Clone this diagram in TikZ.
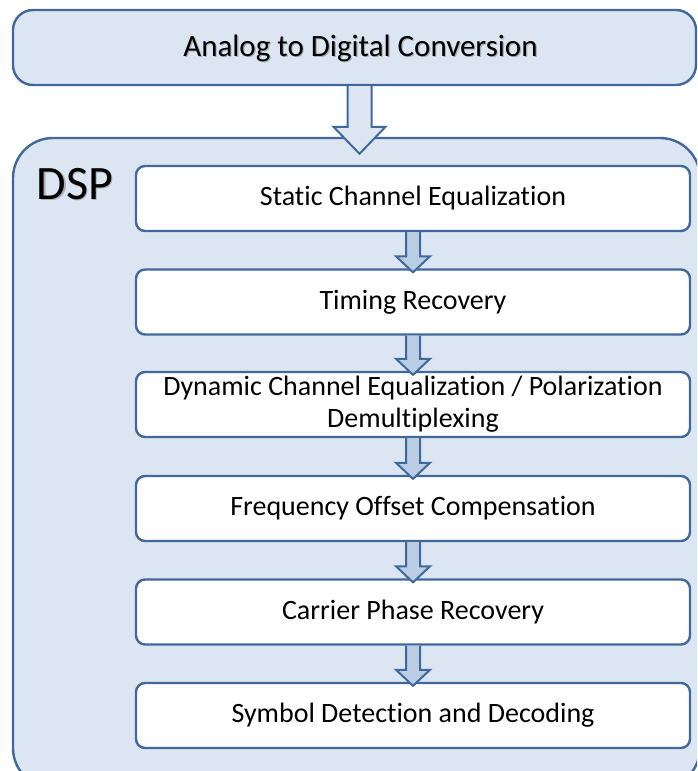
\documentclass[tikz,border=0pt]{standalone}
\usepackage{fontspec}
\setmainfont{Carlito}[Ligatures={NoCommon}]
\usetikzlibrary{calc}
\definecolor{edge}{RGB}{65,104,155}
\definecolor{panel}{RGB}{220,230,242}
\definecolor{arrowfill}{RGB}{185,205,229}
\definecolor{shade}{RGB}{170,175,182}
\tikzset{
  outerbox/.style={draw=edge, line width=2.4pt, fill=panel, rounded corners=#1, inner sep=0pt},
  stagebox/.style={draw=edge, line width=2.4pt, fill=white, rounded corners=9pt,
    minimum width=554pt, minimum height=65pt, inner sep=0pt, align=center,
    font=\fontsize{28}{32}\selectfont},
  fatarrow/.style={draw=edge, line width=2pt, line join=miter, fill=panel},
  thinarrow/.style={draw=edge, line width=2pt, line join=miter, fill=arrowfill},
}
% block arrow from the bottom of one node to the top of another:
% #1 style, #2 start node anchor, #3 end node anchor,
% #4 shaft half width, #5 head half width, #6 head base above end, #7 tip below end
\newcommand\blockarrow[7]{%
  \draw[#1] let \p1=(#2), \p2=(#3) in
    (\x1-#4,\y1) -- (\x1-#4,\y2+#6) -- (\x1-#5,\y2+#6) -- (\x1,\y2-#7)
    -- (\x1+#5,\y2+#6) -- (\x1+#4,\y2+#6) -- (\x1+#4,\y1);%
}
\begin{document}
\begin{tikzpicture}[x=1pt,y=-1pt]
  \useasboundingbox (0,0) rectangle (697,771);
  \clip (0,0) rectangle (697,771);

  % converter stage
  \node[outerbox=20pt, minimum width=683pt, minimum height=75pt] (adc) at (354.5,47.5) {};
  \node[text=shade, font=\fontsize{31}{34}\selectfont] (adcshadow) at ($(adc.center)+(7.2,2.2)$) {Analog to Digital Conversion};
  \node[font=\fontsize{31}{34}\selectfont] (adctext) at ($(adc.center)+(6,1)$) {Analog to Digital Conversion};

  % DSP container
  \node[outerbox=40pt, minimum width=687pt, minimum height=650pt] (dsp) at (356.5,463) {};
  \node[text=shade, font=\fontsize{48}{52}\selectfont] (dspshadow) at (76.3,185.3) {DSP};
  \node[font=\fontsize{48}{52}\selectfont] (dsplabel) at (75,184) {DSP};

  % processing stages
  \node[stagebox] (s1) at (413,198.5) {Static Channel Equalization};
  \node[stagebox] (s2) at (413,302) {Timing Recovery};
  \node[stagebox] (s3) at (413,404.5) {Dynamic Channel Equalization / Polarization\\Demultiplexing};
  \node[stagebox] (s4) at (413,508.5) {Frequency Offset Compensation};
  \node[stagebox] (s5) at (413,612) {Carrier Phase Recovery};
  \node[stagebox] (s6) at (413,715.5) {Symbol Detection and Decoding};

  % arrows
  \blockarrow{fatarrow}{$(adc.south)+(5,0)$}{$(dsp.north)+(3.5,0)$}{12pt}{26pt}{10pt}{17pt}
  \blockarrow{thinarrow}{s1.south}{s2.north}{7pt}{17pt}{12pt}{4pt}
  \blockarrow{thinarrow}{s2.south}{s3.north}{7pt}{17pt}{12pt}{4pt}
  \blockarrow{thinarrow}{s3.south}{s4.north}{7pt}{17pt}{12pt}{4pt}
  \blockarrow{thinarrow}{s4.south}{s5.north}{7pt}{17pt}{12pt}{4pt}
  \blockarrow{thinarrow}{s5.south}{s6.north}{7pt}{17pt}{12pt}{4pt}
\end{tikzpicture}
\end{document}
